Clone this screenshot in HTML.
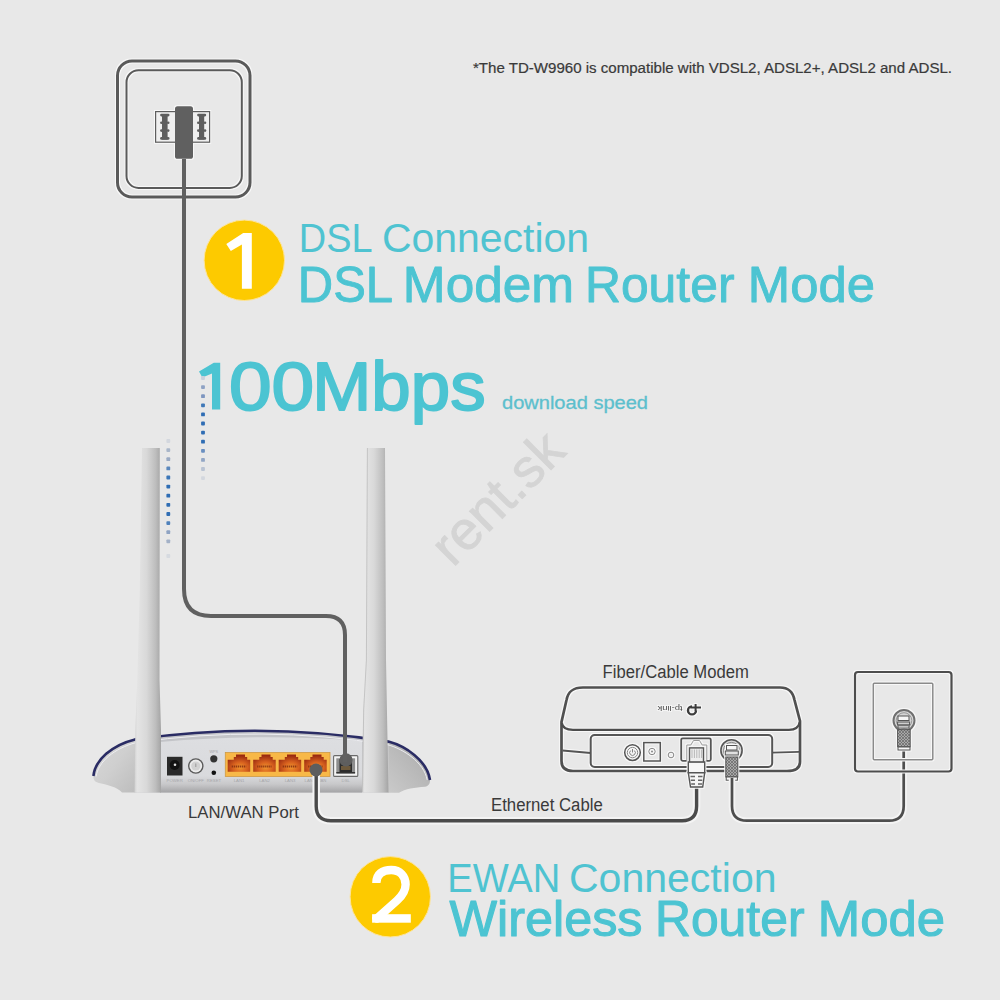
<!DOCTYPE html>
<html><head><meta charset="utf-8">
<style>
html,body{margin:0;padding:0;width:1000px;height:1000px;overflow:hidden;background:#e8e8e8;}
svg{display:block;font-family:"Liberation Sans",sans-serif;}
</style></head>
<body>
<svg width="1000" height="1000" viewBox="0 0 1000 1000">
<defs>
  <linearGradient id="ant" x1="0" x2="1" y1="0" y2="0">
    <stop offset="0" stop-color="#d0d0d0"/>
    <stop offset="0.1" stop-color="#e4e4e4"/>
    <stop offset="0.45" stop-color="#d9d9d9"/>
    <stop offset="0.8" stop-color="#bdbdbd"/>
    <stop offset="1" stop-color="#a4a4a4"/>
  </linearGradient>
  <linearGradient id="wingL" x1="0" x2="1" y1="0" y2="1">
    <stop offset="0" stop-color="#d8d8d8"/>
    <stop offset="0.5" stop-color="#cfcfcf"/>
    <stop offset="1" stop-color="#bdbdbd"/>
  </linearGradient>
  <linearGradient id="wingR" x1="1" x2="0" y1="0" y2="1">
    <stop offset="0" stop-color="#a9a9a9"/>
    <stop offset="0.5" stop-color="#bababa"/>
    <stop offset="1" stop-color="#cacaca"/>
  </linearGradient>
  <linearGradient id="panel" x1="0" x2="0" y1="0" y2="1">
    <stop offset="0" stop-color="#dddee1"/>
    <stop offset="0.7" stop-color="#d9dadd"/>
    <stop offset="0.85" stop-color="#c8c8ca"/>
    <stop offset="1" stop-color="#a4a4a6"/>
  </linearGradient>
  <radialGradient id="port" cx="0.55" cy="0.75" r="0.7">
    <stop offset="0" stop-color="#f0952e"/>
    <stop offset="0.45" stop-color="#d8621f"/>
    <stop offset="1" stop-color="#9a2a10"/>
  </radialGradient>
  <pattern id="knurl" width="3" height="3" patternUnits="userSpaceOnUse">
    <rect width="3" height="3" fill="#a8a8a8"/>
    <path d="M0,0 L3,3 M3,0 L0,3" stroke="#666" stroke-width="0.7"/>
  </pattern>
  <filter id="halo" x="-10%" y="-10%" width="120%" height="120%" color-interpolation-filters="sRGB">
    <feMorphology in="SourceAlpha" operator="dilate" radius="1.2" result="d"/>
    <feGaussianBlur in="d" stdDeviation="0.5" result="db"/>
    <feFlood flood-color="#f8f8f8"/>
    <feComposite in2="db" operator="in" result="w"/>
    <feMerge><feMergeNode in="w"/><feMergeNode in="SourceGraphic"/></feMerge>
  </filter>
</defs>
<rect width="1000" height="1000" fill="#e8e8e8"/>

<!-- watermark -->
<text x="0" y="0" transform="translate(453,568) rotate(-45)" font-size="54" fill="#d4d4d4" stroke="#d4d4d4" stroke-width="0.8">rent.sk</text>

<!-- note -->
<text x="473" y="72.7" font-size="13.8" fill="#3a3a3a" stroke="#3a3a3a" stroke-width="0.2" textLength="479" lengthAdjust="spacingAndGlyphs">*The TD-W9960 is compatible with VDSL2, ADSL2+, ADSL2 and ADSL.</text>

<!-- top-left wall socket -->
<g filter="url(#halo)">
<rect x="117.5" y="61" width="132.5" height="136" rx="14.5" fill="none" stroke="#5a5a5a" stroke-width="3"/>
<rect x="126.5" y="70.3" width="115.3" height="117.6" rx="12" fill="none" stroke="#5a5a5a" stroke-width="2"/>
<rect x="155.6" y="111.6" width="54" height="30.6" fill="#efefef" stroke="#5e5e5e" stroke-width="1.2"/>
<g fill="#5e5e5e">
  <rect x="162" y="114" width="5.6" height="25.6"/>
  <rect x="160.1" y="113.7" width="9.4" height="2.7" rx="1.3"/>
  <rect x="160.1" y="137" width="9.4" height="2.7" rx="1.3"/>
  <circle cx="161.4" cy="122.8" r="1.3"/><circle cx="168.2" cy="122.8" r="1.3"/>
  <circle cx="161.4" cy="130.6" r="1.3"/><circle cx="168.2" cy="130.6" r="1.3"/>
  <rect x="199" y="114" width="5.2" height="25.6"/>
  <rect x="197.1" y="113.7" width="9.1" height="2.7" rx="1.3"/>
  <rect x="197.1" y="137" width="9.1" height="2.7" rx="1.3"/>
  <circle cx="198.3" cy="122.8" r="1.3"/><circle cx="205" cy="122.8" r="1.3"/>
  <circle cx="198.3" cy="130.6" r="1.3"/><circle cx="205" cy="130.6" r="1.3"/>
</g>
<rect x="175" y="106.2" width="18" height="52.6" rx="2.6" fill="#606060"/>
</g>

<!-- headlines 1 -->
<circle cx="244.3" cy="260.3" r="40.2" fill="#fdca00" stroke="#fde49a" stroke-width="1"/>
<path d="M243.2,233 H251.8 V288.8 H241.9 V244.5 L230.8,251 L226.3,244 Z" fill="#ffffff"/>
<text x="298.87" y="251.6" font-size="40" fill="#4fc3d1" textLength="73.71" lengthAdjust="spacingAndGlyphs">DSL</text>
<text x="381.96" y="251.6" font-size="40" fill="#4fc3d1" textLength="207.1" lengthAdjust="spacingAndGlyphs">Connection</text>
<text x="297.8" y="301.5" font-size="49.4" fill="#4cc4d2" stroke="#4cc4d2" stroke-width="0.9" stroke-linejoin="round" textLength="95.24" lengthAdjust="spacingAndGlyphs">DSL</text>
<text x="402.86" y="301.5" font-size="49.4" fill="#4cc4d2" stroke="#4cc4d2" stroke-width="0.9" stroke-linejoin="round" textLength="171.27" lengthAdjust="spacingAndGlyphs">Modem</text>
<text x="584.91" y="301.5" font-size="49.4" fill="#4cc4d2" stroke="#4cc4d2" stroke-width="0.9" stroke-linejoin="round" textLength="149.61" lengthAdjust="spacingAndGlyphs">Router</text>
<text x="747.84" y="301.5" font-size="49.4" fill="#4cc4d2" stroke="#4cc4d2" stroke-width="0.9" stroke-linejoin="round" textLength="127.23" lengthAdjust="spacingAndGlyphs">Mode</text>
<path d="M213.8,362.8 H220.2 V409.6 H212 V373.4 L202.4,377.4 L199,371.6 Z" fill="#4cc4d2"/>
<text x="228.9" y="410.2" font-size="68" fill="#4cc4d2" stroke="#4cc4d2" stroke-width="1.9" stroke-linejoin="round" textLength="85.21" lengthAdjust="spacingAndGlyphs">00</text>
<text x="312.35" y="410.2" font-size="68" fill="#4cc4d2" stroke="#4cc4d2" stroke-width="1.9" stroke-linejoin="round" textLength="173.2" lengthAdjust="spacingAndGlyphs">Mbps</text>
<text x="502" y="408.6" font-size="18.5" fill="#5cbfcd" stroke="#5cbfcd" stroke-width="0.3" textLength="146" lengthAdjust="spacingAndGlyphs">download speed</text>

<!-- DOTS -->
<g id="dots">
<rect x="166.4" y="439.1" width="3.8" height="3.8" rx="0.9" fill="#d3d7de"/>
<rect x="166.4" y="448.2" width="3.8" height="3.8" rx="0.9" fill="#a9b6c9"/>
<rect x="166.4" y="457.3" width="3.8" height="3.8" rx="0.9" fill="#9aaac3"/>
<rect x="166.4" y="466.5" width="3.8" height="3.8" rx="0.9" fill="#5b88bd"/>
<rect x="166.4" y="475.6" width="3.8" height="3.8" rx="0.9" fill="#3b76b8"/>
<rect x="166.4" y="484.7" width="3.8" height="3.8" rx="0.9" fill="#2f6db4"/>
<rect x="166.4" y="493.8" width="3.8" height="3.8" rx="0.9" fill="#2f6db4"/>
<rect x="166.4" y="502.9" width="3.8" height="3.8" rx="0.9" fill="#2f6db4"/>
<rect x="166.4" y="512.1" width="3.8" height="3.8" rx="0.9" fill="#2f6db4"/>
<rect x="166.4" y="521.2" width="3.8" height="3.8" rx="0.9" fill="#4f81bb"/>
<rect x="166.4" y="530.3" width="3.8" height="3.8" rx="0.9" fill="#8ea3c3"/>
<rect x="166.4" y="539.4" width="3.8" height="3.8" rx="0.9" fill="#a3b1c7"/>
<rect x="166.4" y="554.1" width="3.8" height="3.8" rx="0.9" fill="#d6dae0"/>
<rect x="201.1" y="376.1" width="3.8" height="3.8" rx="0.9" fill="#c9d0dc"/>
<rect x="201.1" y="385.2" width="3.8" height="3.8" rx="0.9" fill="#8ea2c4"/>
<rect x="201.1" y="394.3" width="3.8" height="3.8" rx="0.9" fill="#7e96c0"/>
<rect x="201.1" y="403.4" width="3.8" height="3.8" rx="0.9" fill="#3f78b8"/>
<rect x="201.1" y="412.5" width="3.8" height="3.8" rx="0.9" fill="#2f6db4"/>
<rect x="201.1" y="421.6" width="3.8" height="3.8" rx="0.9" fill="#2f6db4"/>
<rect x="201.1" y="430.7" width="3.8" height="3.8" rx="0.9" fill="#2f6db4"/>
<rect x="201.1" y="439.8" width="3.8" height="3.8" rx="0.9" fill="#2f6db4"/>
<rect x="201.1" y="448.9" width="3.8" height="3.8" rx="0.9" fill="#6a8fc0"/>
<rect x="201.1" y="458.0" width="3.8" height="3.8" rx="0.9" fill="#92a6c5"/>
<rect x="201.1" y="467.1" width="3.8" height="3.8" rx="0.9" fill="#b9c3d3"/>
<rect x="201.1" y="476.2" width="3.8" height="3.8" rx="0.9" fill="#d3d7de"/>
</g>

<!-- ROUTER -->
<g id="router">
  <path d="M135,739.4 Q262,721 388.4,741.6 V792.5 H135 Z" fill="#c3c4c8"/>
  <path d="M135,739.4 C112,745 95,760 93.4,776 C93.4,780 95,782 99,783 C108,785 117,787 122,792.5 H135 Z" fill="url(#wingL)"/>
  <path d="M388.4,741.6 C405,746 427,760 430,780 C430,784 428.5,786 425,786.8 C415,787.5 405,789 399,792.8 H388 Z" fill="url(#wingR)"/>
  <path d="M160,742 Q262,733 362,741 V792.5 H160 Z" fill="url(#panel)"/>
  <path d="M93.4,776 C95,760 112,745 135,739.4 Q262,721 388.4,741.6 C405,746 427,760 430,780" fill="none" stroke="#2a2c64" stroke-width="2.6"/>
  <path d="M96.2,776.5 C98,762 114,748.5 136,742.6 Q262,724.4 388,744.8 C403,749 424,762 427.2,780" fill="none" stroke="#eeeef2" stroke-width="1"/>
  <!-- power -->
  <rect x="167" y="756.8" width="15.5" height="18.7" fill="#2a2a2a"/>
  <circle cx="174.7" cy="765" r="5" fill="#121212"/>
  <circle cx="175" cy="764.8" r="1.3" fill="#e0e0e0"/>
  <!-- on/off -->
  <circle cx="195.8" cy="766" r="7.8" fill="#5a5a5a"/>
  <circle cx="195.8" cy="766" r="6.4" fill="#ececec"/>
  <circle cx="195.8" cy="766" r="4.6" fill="#d2d2d2"/>
  <rect x="195.3" y="763.5" width="1" height="3.5" fill="#999"/>
  <!-- wps/reset -->
  <circle cx="213.8" cy="758.8" r="3.6" fill="#333"/>
  <circle cx="213.8" cy="772.8" r="2.3" fill="#111"/>
  <!-- orange lan block -->
  <rect x="225.3" y="752.5" width="104.7" height="24" fill="#f8b847" stroke="#cf9a45" stroke-width="0.8"/>
  <g fill="url(#port)">
    <path d="M227.7,759.7 H233.8 V757 H236 V754.6 H245 V757 H247.2 V759.7 H250.2 V771.7 H227.7 Z"/>
    <path d="M253.2,759.7 H259.3 V757 H261.5 V754.6 H270.5 V757 H272.7 V759.7 H275.7 V771.7 H253.2 Z"/>
    <path d="M278.7,759.7 H284.8 V757 H287 V754.6 H296 V757 H298.2 V759.7 H301.2 V771.7 H278.7 Z"/>
    <path d="M304.2,759.7 H310.3 V757 H312.5 V754.6 H321.5 V757 H323.7 V759.7 H326.7 V771.7 H304.2 Z"/>
  </g>
  <path d="M231.7,766.5 H246.2" stroke="#8a3412" stroke-width="2.2" stroke-dasharray="1.2,0.8" fill="none"/><path d="M257.2,766.5 H271.7" stroke="#8a3412" stroke-width="2.2" stroke-dasharray="1.2,0.8" fill="none"/><path d="M282.7,766.5 H297.2" stroke="#8a3412" stroke-width="2.2" stroke-dasharray="1.2,0.8" fill="none"/><path d="M308.2,766.5 H322.7" stroke="#8a3412" stroke-width="2.2" stroke-dasharray="1.2,0.8" fill="none"/>
  <!-- dsl port -->
  <rect x="333.6" y="755.6" width="24.2" height="20.8" rx="1" fill="#f4f4f4" stroke="#6a6a6a" stroke-width="1.1"/>
  <rect x="336.3" y="758.3" width="18.8" height="14.5" fill="#8e8e8e"/>
  <rect x="339.5" y="759" width="12.5" height="13" fill="#2c2c2c"/>
  <rect x="341" y="766" width="9.5" height="4" fill="#6e5a3c"/>
  <rect x="336.3" y="772" width="18.8" height="1.6" fill="#333"/>
  <!-- labels -->
  <g font-size="4.3" fill="#a6a6a9" text-anchor="middle">
    <text x="174.7" y="782">POWER</text>
    <text x="195.8" y="782">ON/OFF</text>
    <text x="214" y="782">RESET</text>
    <text x="213.8" y="752.6" font-size="3.8">WPS</text>
    <text x="239" y="782">LAN1</text>
    <text x="264.5" y="782">LAN2</text>
    <text x="290" y="782">LAN3</text>
    <text x="315.5" y="782">LAN4/WAN</text>
    <text x="345.8" y="782">DSL</text>
  </g>
  <!-- antennas -->
  <path d="M142,448 H159.8 L159.5,680 L161,730 V792.5 H134.5 L135.3,730 L137.3,680 L139.8,590 Z" fill="url(#ant)"/>
  <path d="M367,448 H385 L386,660 L388.5,792.5 H362 L363.3,710 L366,660 Z" fill="url(#ant)"/>
  <path d="M367.4,448 L366.4,660 L363.7,710 L362.4,792" fill="none" stroke="#bdbdbd" stroke-width="0.8"/>
  <!-- dsl plug -->
  <circle cx="346" cy="759.8" r="6.6" fill="#5e5e5e"/>
</g>

<!-- DSL cable -->
<path d="M184,159 V589 Q184,616 211,616 H326 Q345,616 345,635 V762" fill="none" stroke="#606060" stroke-width="4"/>

<!-- LAN/WAN label -->
<text x="188" y="818.2" font-size="17" fill="#3a3a3a" textLength="111" lengthAdjust="spacingAndGlyphs">LAN/WAN Port</text>

<!-- Ethernet cable router->modem -->
<path d="M316.2,770 V806 Q316.2,820.7 331,820.7 H682 Q696.6,820.7 696.6,806 V786" fill="none" stroke="#f4f4f4" stroke-width="7.5"/>
<path d="M316.2,770 V806 Q316.2,820.7 331,820.7 H682 Q696.6,820.7 696.6,806 V786" fill="none" stroke="#4a4a4a" stroke-width="3.4"/>
<circle cx="316" cy="770" r="6.5" fill="#5e5e5e"/>
<text x="491" y="810.9" font-size="17.6" fill="#3a3a3a" textLength="111.8" lengthAdjust="spacingAndGlyphs">Ethernet Cable</text>

<!-- MODEM -->
<text x="602.6" y="678.2" font-size="18" fill="#3a3a3a" textLength="146.2" lengthAdjust="spacingAndGlyphs">Fiber/Cable Modem</text>
<g id="modem" filter="url(#halo)">
  <path d="M583,687.5 H780 C789,687.5 793,692 794.5,700 L800,721 V762 C800,768 795,771 787,771 H573 C565,771 561.5,767 561.5,761 V722 L566.5,700 C568,692 572,687.5 583,687.5 Z" fill="none" stroke="#505050" stroke-width="2.7"/>
  <path d="M561.8,723 C562.5,727.5 566,729.8 573,729.8 H789 C795,729.8 798.8,727.5 799.8,722" fill="none" stroke="#4d4d4d" stroke-width="2.2"/>
  <path d="M562.5,750.5 L590.7,753" fill="none" stroke="#555" stroke-width="1.8"/>
  <path d="M772.2,752.6 L799,751.8" fill="none" stroke="#555" stroke-width="1.8"/>
  <rect x="590.7" y="735" width="181.5" height="32" rx="4" fill="none" stroke="#555" stroke-width="2"/>
  <!-- tp-link logo (upside down) -->
  <path d="M692,706.4 A4,4 0 1 0 696,710.4" fill="none" stroke="#3c3c3c" stroke-width="2.4"/>
  <path d="M690.2,707.4 H701 M695.6,704 V711" fill="none" stroke="#3c3c3c" stroke-width="2"/>
  <text x="0" y="0" transform="translate(670,706.2) rotate(180)" font-size="8" fill="#4a4a4a" text-anchor="middle" textLength="25" lengthAdjust="spacingAndGlyphs">tp-link</text>
  <!-- power button -->
  <circle cx="632.5" cy="752.6" r="7.8" fill="none" stroke="#555" stroke-width="1.5"/>
  <circle cx="632.5" cy="752.6" r="5.2" fill="none" stroke="#888" stroke-width="1"/>
  <path d="M630.6,750.6 A2.8,2.8 0 1 0 634.4,750.6 M632.5,749 V752.5" fill="none" stroke="#777" stroke-width="0.9"/>
  <!-- dc port -->
  <rect x="643.8" y="742.6" width="16.5" height="18.4" fill="none" stroke="#555" stroke-width="1.5"/>
  <circle cx="652" cy="751.5" r="3.2" fill="none" stroke="#888" stroke-width="1"/>
  <circle cx="652" cy="751.5" r="1" fill="#888"/>
  <circle cx="671" cy="755" r="2.8" fill="none" stroke="#888" stroke-width="1"/>
  <!-- ethernet port -->
  <rect x="681.2" y="738.3" width="29.6" height="22.5" rx="1.5" fill="none" stroke="#555" stroke-width="1.8"/>
  <path d="M686.8,760 V745 H690.8 L693.5,740.5 H699.5 L702.2,745 H706.8 V760" fill="none" stroke="#999" stroke-width="1"/>
  <!-- coax port -->
  <circle cx="731.5" cy="750.4" r="10.6" fill="#d8d8d8" stroke="#555" stroke-width="1.6"/>
  <circle cx="731.5" cy="750.4" r="8" fill="none" stroke="#888" stroke-width="1"/>
</g>
<!-- ethernet plug -->
<g stroke="#555" stroke-width="1.4" filter="url(#halo)">
  <rect x="688.3" y="761.9" width="16.4" height="10.8" fill="#f6f6f6"/>
  <path d="M688.3,772.7 L690.5,787 H702.7 L704.7,772.7 Z" fill="#f6f6f6"/>
  <rect x="689.5" y="747.9" width="14" height="14" fill="#eeeeee"/>
  <path d="M692,749.5 V758 M694.4,749.5 V758 M696.8,749.5 V758 M699.2,749.5 V758 M701.6,749.5 V758" stroke="#aaa" stroke-width="0.8"/>
  <path d="M690.5,776.5 H695 M698,776.5 H702.5 M690.8,780.3 H695 M698,780.3 H702.3 M691.2,784 H695 M698,784 H702" stroke="#666" stroke-width="1.5"/>
</g>
<!-- coax plug (modem) -->
<g stroke="#555" stroke-width="1" filter="url(#halo)">
  <rect x="726.5" y="745.5" width="10.5" height="4.5" fill="#f6f6f6"/>
  <rect x="725.3" y="751" width="13" height="4" fill="#e0e0e0"/>
  <rect x="725.8" y="757" width="12" height="20" fill="url(#knurl)"/>
  <rect x="726.2" y="777" width="11.2" height="3.2" fill="#f6f6f6"/>
</g>

<!-- coax cable modem->wall -->
<path d="M732,778 V806 Q732,820.7 747,820.7 H889 Q903.7,820.7 903.7,806 V749" fill="none" stroke="#f4f4f4" stroke-width="6.5"/>
<path d="M732,778 V806 Q732,820.7 747,820.7 H889 Q903.7,820.7 903.7,806 V749" fill="none" stroke="#4e4e4e" stroke-width="2.7"/>

<!-- right wall socket -->
<g id="wall2" filter="url(#halo)">
  <rect x="855" y="672" width="96.5" height="99.5" rx="3" fill="none" stroke="#4d4d4d" stroke-width="2.2"/>
  <rect x="873.3" y="683.3" width="59.5" height="76.5" rx="1" fill="none" stroke="#8a8a8a" stroke-width="1.5"/>
  <circle cx="904" cy="720.5" r="10.5" fill="#d6d6d6" stroke="#707070" stroke-width="2"/>
  <circle cx="904" cy="720.5" r="7.8" fill="none" stroke="#999" stroke-width="1"/>
  <g stroke="#555" stroke-width="1">
    <rect x="898" y="716" width="11" height="4.5" fill="#f6f6f6"/>
    <rect x="897.6" y="722" width="12" height="2.8" fill="#d0d0d0"/>
    <rect x="898" y="725.8" width="11" height="2.2" fill="#f6f6f6"/>
    <rect x="897.6" y="729.7" width="12.6" height="17" fill="url(#knurl)"/>
    <rect x="898" y="747" width="12" height="3" fill="#f6f6f6"/>
  </g>
</g>

<!-- headlines 2 -->
<circle cx="390.3" cy="896.8" r="40.2" fill="#fdca00" stroke="#fde49a" stroke-width="1"/>
<clipPath id="c2"><rect x="372.1" y="850" width="50" height="72.7"/></clipPath>
<path d="M376.3,883 C376.3,874 382.5,870 391.2,870 C400,870 405.6,876 405.6,884.5 C405.6,891 402,896 397,900.5 L374,921" fill="none" stroke="#ffffff" stroke-width="8.4" clip-path="url(#c2)"/>
<rect x="372.1" y="914.2" width="38.7" height="8.5" fill="#ffffff"/>
<text x="447.34" y="891.7" font-size="40" fill="#4fc3d1" textLength="112.83" lengthAdjust="spacingAndGlyphs">EWAN</text>
<text x="568.95" y="891.7" font-size="40" fill="#4fc3d1" textLength="207.59" lengthAdjust="spacingAndGlyphs">Connection</text>
<text x="449.5" y="935.6" font-size="49.7" fill="#4cc4d2" stroke="#4cc4d2" stroke-width="1.1" stroke-linejoin="round" textLength="193.01" lengthAdjust="spacingAndGlyphs">Wireless</text>
<text x="654.91" y="935.6" font-size="49.7" fill="#4cc4d2" stroke="#4cc4d2" stroke-width="1.1" stroke-linejoin="round" textLength="149.6" lengthAdjust="spacingAndGlyphs">Router</text>
<text x="817.85" y="935.6" font-size="49.7" fill="#4cc4d2" stroke="#4cc4d2" stroke-width="1.1" stroke-linejoin="round" textLength="127.22" lengthAdjust="spacingAndGlyphs">Mode</text>
</svg>
</body></html>
